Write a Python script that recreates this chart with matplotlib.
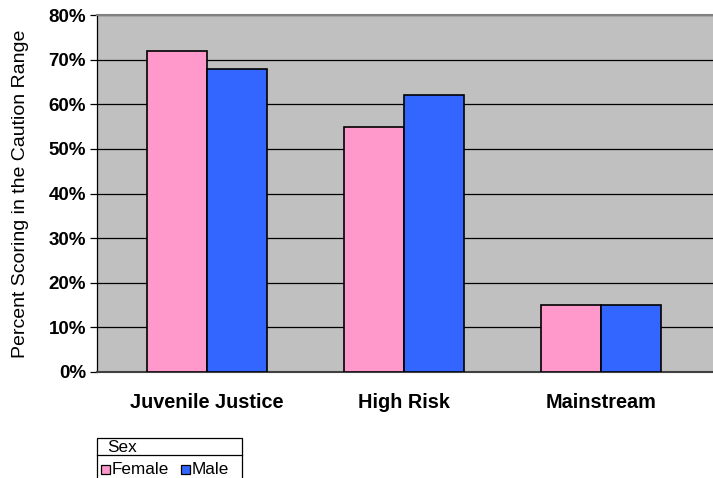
import matplotlib
matplotlib.use("Agg")
import matplotlib.pyplot as plt
from matplotlib.patches import Rectangle
from matplotlib.lines import Line2D
import numpy as np

categories = ["Juvenile Justice", "High Risk", "Mainstream"]
series_names = ["Female", "Male"]
female_pct = [72, 55, 15]
male_pct = [68, 62, 15]
y_ticks = [0, 10, 20, 30, 40, 50, 60, 70, 80]
y_label = "Percent Scoring in the Caution Range"
legend_title = "Sex"

colors = ["#FF99CC", "#3366FF"]
font = ["Liberation Sans", "DejaVu Sans"]

W, H = 713, 478
fig = plt.figure(figsize=(W / 100, H / 100), dpi=100)
ax = fig.add_axes([97 / W, (H - 372) / H, (W - 97) / W, (372 - 15) / H])
ax.set_facecolor("#C0C0C0")

x = np.arange(len(categories))
bw = 60 / 197
ax.bar(x - bw / 2, female_pct, width=bw, color=colors[0], edgecolor="black",
       linewidth=1.2, zorder=3)
ax.bar(x + bw / 2, male_pct, width=bw, color=colors[1], edgecolor="black",
       linewidth=1.2, zorder=3)

ax.set_xlim(-110 / 197, 2 + 112 / 197)
ax.set_ylim(0, 80)
ax.set_yticks(y_ticks)
ax.set_yticklabels([f"{v}%" for v in y_ticks], fontfamily=font,
                   fontweight="bold", fontsize=13.5)
ax.yaxis.grid(True, color="black", linewidth=0.9, zorder=1)
ax.set_axisbelow(True)
ax.tick_params(axis="y", direction="out", length=5, width=0.9, pad=3)

ax.set_xticks(x)
ax.set_xticklabels(categories, fontfamily=font, fontweight="bold", fontsize=14.3)
ax.tick_params(axis="x", length=0, pad=15)

ax.set_ylabel(y_label, fontfamily=font, fontsize=14, labelpad=14)

ax.spines["right"].set_visible(False)
ax.spines["top"].set_color("#808080")
ax.spines["top"].set_linewidth(1.5)
ax.spines["bottom"].set_color("#404040")
ax.spines["bottom"].set_linewidth(1.5)
ax.spines["left"].set_color("black")
ax.spines["left"].set_linewidth(0.9)

# legend box drawn in pixel coordinates of the figure
def fx(px):
    return px / W

def fy(py):
    return (H - py) / H

box = Rectangle((fx(97), fy(480)), fx(242) - fx(97), fy(438) - fy(480),
                transform=fig.transFigure, facecolor="white",
                edgecolor="black", linewidth=0.9)
fig.add_artist(box)
fig.add_artist(Line2D([fx(97), fx(242)], [fy(455), fy(455)],
                      transform=fig.transFigure, color="black", linewidth=0.9))
fig.text(fx(107), fy(447), legend_title, fontfamily=font, fontsize=12.3,
         va="center", ha="left")
entry_x = [101, 181]
for name, col, ex in zip(series_names, colors, entry_x):
    fig.add_artist(Rectangle((fx(ex), fy(474)), fx(ex + 9) - fx(ex),
                             fy(465) - fy(474), transform=fig.transFigure,
                             facecolor=col, edgecolor="black", linewidth=0.9))
    fig.text(fx(ex + 11), fy(469.5), name, fontfamily=font, fontsize=12.3,
             va="center", ha="left")

fig.savefig("out.png", dpi=100)
